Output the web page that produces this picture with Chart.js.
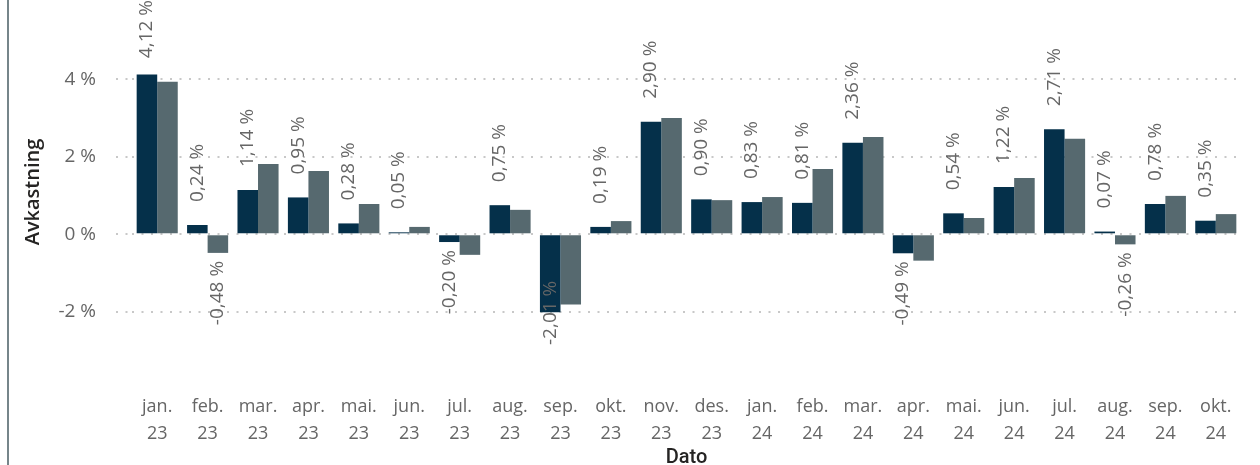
<!DOCTYPE html>
<html lang="no">
<head>
<meta charset="utf-8">
<title>Avkastning per måned</title>
<script src="https://cdn.jsdelivr.net/npm/chart.js@4.4.1/dist/chart.umd.min.js"></script>
<style>
  html, body { margin: 0; padding: 0; background: #fff; }
  #wrap { position: relative; width: 1260px; height: 465px; }
  #kant { position: absolute; left: 7px; top: 0; width: 2px; height: 465px; background: #76858a; }
  canvas { position: absolute; left: 0; top: 0; }
</style>
</head>
<body>
<div id="wrap">
  <canvas id="graf" width="1260" height="465"></canvas>
  <div id="kant"></div>
</div>
<script>
// data lest av bildet
const maaneder = ['jan.', 'feb.', 'mar.', 'apr.', 'mai.', 'jun.', 'jul.', 'aug.', 'sep.', 'okt.', 'nov.', 'des.',
                  'jan.', 'feb.', 'mar.', 'apr.', 'mai.', 'jun.', 'jul.', 'aug.', 'sep.', 'okt.'];
const aar = ['23', '23', '23', '23', '23', '23', '23', '23', '23', '23', '23', '23',
             '24', '24', '24', '24', '24', '24', '24', '24', '24', '24'];
const avkastning = [4.12, 0.24, 1.14, 0.95, 0.28, 0.05, -0.20, 0.75, -2.01, 0.19, 2.90, 0.90,
                    0.83, 0.81, 2.36, -0.49, 0.54, 1.22, 2.71, 0.07, 0.78, 0.35];
const referanse = [3.93, -0.48, 1.81, 1.63, 0.78, 0.19, -0.53, 0.63, -1.81, 0.34, 3.00, 0.88,
                   0.96, 1.68, 2.51, -0.68, 0.42, 1.45, 2.46, -0.26, 0.99, 0.52];
const yTicks = [-2, 0, 2, 4];

const labelFont = '400 19px "Open Sans"';
const gra = '#666666';

function fmt(v) {
  return v.toFixed(2).replace('.', ',') + ' %';
}

// stående dataetiketter, grå serie bare når fortegnet er ulikt den mørke
const etiketter = {
  id: 'etiketter',
  afterDatasetsDraw(chart) {
    const { ctx, chartArea } = chart;
    const bunn = 345;
    ctx.save();
    ctx.font = labelFont;
    ctx.fillStyle = gra;
    ctx.textBaseline = 'middle';
    chart.data.datasets.forEach((ds, di) => {
      const meta = chart.getDatasetMeta(di);
      meta.data.forEach((bar, i) => {
        const v = ds.data[i];
        if (di === 1 && Math.sign(v) === Math.sign(avkastning[i])) return;
        const tekst = fmt(v);
        const w = ctx.measureText(tekst).width;
        ctx.save();
        if (v >= 0) {
          let y = bar.y - 23;
          if (y - w < chartArea.top) y = chartArea.top + w;
          ctx.translate(bar.x, y);
          ctx.rotate(-Math.PI / 2);
          ctx.textAlign = 'left';
        } else {
          let y = bar.y + 8;
          if (y + w > bunn) y = bunn - w;
          ctx.translate(bar.x, y);
          ctx.rotate(-Math.PI / 2);
          ctx.textAlign = 'right';
        }
        ctx.fillText(tekst, 0, 0);
        ctx.restore();
      });
    });
    ctx.restore();
  }
};

const ctx = document.getElementById('graf').getContext('2d');
new Chart(ctx, {
  type: 'bar',
  data: {
    labels: maaneder.map((m, i) => [m, aar[i]]),
    datasets: [
      { label: 'Avkastning', data: avkastning, backgroundColor: '#05304a' },
      { label: 'Referanse', data: referanse, backgroundColor: '#56696f' }
    ]
  },
  options: {
    responsive: false,
    animation: false,
    devicePixelRatio: 1,
    categoryPercentage: 0.815,
    barPercentage: 1,
    layout: { padding: { left: 0, right: 19, top: 0, bottom: 0 } },
    plugins: {
      legend: { display: false },
      tooltip: { enabled: false }
    },
    scales: {
      x: {
        grid: { display: false, drawTicks: false },
        border: { display: false },
        ticks: {
          color: gra,
          font: { family: 'Open Sans', size: 18, lineHeight: 1.5 },
          padding: 9,
          maxRotation: 0,
          autoSkip: false
        },
        title: {
          display: true,
          text: 'Dato',
          color: '#252423',
          font: { family: 'Roboto', size: 20, weight: '500', lineHeight: 1 },
          padding: { top: 0, bottom: -3 }
        },
        afterFit(s) {
          s.height = 465 - 384;
          s.paddingLeft = 0;
          s.paddingRight = 0;
        }
      },
      y: {
        min: -3.86,
        max: 6.04,
        afterBuildTicks(s) { s.ticks = yTicks.map(v => ({ value: v })); },
        grid: {
          color: '#c8c8c8',
          lineWidth: 2,
          tickBorderDash: [2, 7.5],
          tickLength: 16,
          drawTicks: true
        },
        border: { display: false, dash: [2, 7.5] },
        ticks: {
          color: gra,
          font: { family: 'Open Sans', size: 19 },
          padding: 20,
          callback: v => v + ' %'
        },
        title: {
          display: true,
          text: 'Avkastning',
          color: '#252423',
          font: { family: 'Open Sans', size: 20, weight: '600' },
          padding: { top: 21, bottom: 0 }
        },
        afterFit(s) {
          s.width = 132;
          s.paddingTop = 0;
          s.paddingBottom = 0;
        }
      }
    }
  },
  plugins: [etiketter]
});
</script>
</body>
</html>
